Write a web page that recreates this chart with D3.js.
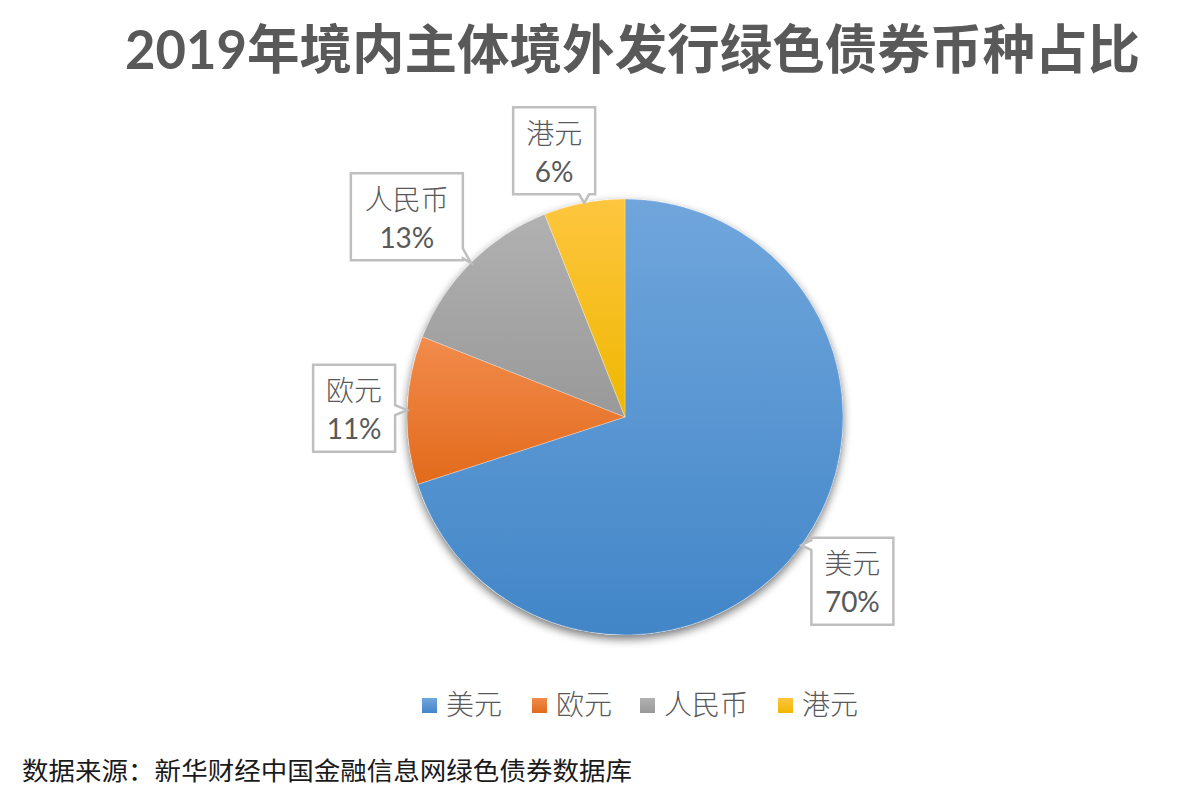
<!DOCTYPE html>
<html><head><meta charset="utf-8">
<script src="https://cdn.jsdelivr.net/npm/d3@7"></script>
<style>html,body{margin:0;padding:0;background:#fff;}svg{display:block;}</style>
</head><body>
<script>
const categories = ["美元", "欧元", "人民币", "港元"];
const values = [70, 11, 13, 6];
const titleText = "2019年境内主体境外发行绿色债券币种占比";
const sourceText = "数据来源：新华财经中国金融信息网绿色债券数据库";

const W = 1188, H = 798;
const cx = 625, cy = 417, R = 218;
const gradTop = ["#70a6dc", "#f28b4c", "#b1b1b1", "#fec63f"];
const gradBot = ["#4286c8", "#e26a1b", "#999999", "#efb700"];
// label box offset from pointer tip (layout)
const boxOffset = [[51, 36], [-53, -2], [-64, -46], [-30, -52]];
const textFont = "Lato, 'Noto Sans CJK SC', sans-serif";

const svg = d3.select("body").append("svg").attr("width", W).attr("height", H);
const defs = svg.append("defs");
categories.forEach((c, i) => {
  const g = defs.append("linearGradient").attr("id", "g" + i)
    .attr("x1", 0).attr("y1", 0).attr("x2", 0).attr("y2", 1);
  g.append("stop").attr("offset", "0%").attr("stop-color", gradTop[i]);
  g.append("stop").attr("offset", "100%").attr("stop-color", gradBot[i]);
});
const f = defs.append("filter").attr("id", "shadow").attr("x", "-20%").attr("y", "-20%").attr("width", "140%").attr("height", "140%");
f.append("feGaussianBlur").attr("in", "SourceAlpha").attr("stdDeviation", 5).attr("result", "b");
f.append("feOffset").attr("in", "b").attr("dx", 0).attr("dy", 4).attr("result", "o");
f.append("feComponentTransfer").attr("in", "o").attr("result", "o2")
  .append("feFuncA").attr("type", "linear").attr("slope", 0.55);
const fm = f.append("feMerge");
fm.append("feMergeNode").attr("in", "o2");
fm.append("feMergeNode").attr("in", "SourceGraphic");

// Title
svg.append("text").attr("x", 125).attr("y", 69)
  .attr("font-family", textFont).attr("font-weight", "bold").attr("font-size", 53)
  .attr("fill", "#595959").attr("textLength", 1015).attr("lengthAdjust", "spacingAndGlyphs")
  .text(titleText);

// Pie
const total = d3.sum(values);
const pie = d3.pie().sort(null).value(d => d)(values);
const arc = d3.arc().innerRadius(0).outerRadius(R);
const pg = svg.append("g").attr("transform", `translate(${cx},${cy})`);
pg.append("circle").attr("r", R).attr("fill", "#fff").attr("filter", "url(#shadow)");
pg.selectAll("path.slice").data(pie).join("path").attr("class", "slice")
  .attr("d", arc).attr("fill", (d, i) => `url(#g${i})`)
  .attr("stroke", "#ffffff").attr("stroke-opacity", 0.35).attr("stroke-width", 0.8);

// Callout labels
const fmt = d3.format(".0%");
pie.forEach((d, i) => {
  const a = (d.startAngle + d.endAngle) / 2;
  const tx = cx + R * Math.sin(a), ty = cy - R * Math.cos(a);
  const bx = tx + boxOffset[i][0], by = ty + boxOffset[i][1];
  const bw = 30 * categories[i].length + 22, bh = 87;
  const x0 = bx - bw / 2, x1 = bx + bw / 2, y0 = by - bh / 2, y1 = by + bh / 2;
  const dx = tx < x0 ? x0 - tx : (tx > x1 ? tx - x1 : 0);
  const dy = ty < y0 ? y0 - ty : (ty > y1 ? ty - y1 : 0);
  const pw = 10;
  let p;
  if (dx >= dy) {
    let py = Math.max(y0 + 2, Math.min(y1 - pw - 2, ty - pw / 2));
    if (tx < x0) {
      p = [[x0, y0], [x1, y0], [x1, y1], [x0, y1], [x0, py + pw], [tx, ty], [x0, py]];
    } else {
      p = [[x0, y0], [x1, y0], [x1, py], [tx, ty], [x1, py + pw], [x1, y1], [x0, y1]];
    }
  } else {
    let px = Math.max(x0 + 2, Math.min(x1 - pw - 2, tx - pw / 2));
    if (ty > y1) {
      p = [[x0, y0], [x1, y0], [x1, y1], [px + pw, y1], [tx, ty], [px, y1], [x0, y1]];
    } else {
      p = [[x0, y0], [px, y0], [tx, ty], [px + pw, y0], [x1, y0], [x1, y1], [x0, y1]];
    }
  }
  svg.append("path").attr("d", d3.line()(p) + "Z")
    .attr("fill", "#fff").attr("stroke", "#bfbfbf").attr("stroke-width", 2.5)
    .attr("stroke-linejoin", "miter");
  svg.append("text").attr("x", bx).attr("y", by - 7).attr("text-anchor", "middle")
    .attr("font-family", textFont).attr("font-weight", 300).attr("font-size", 28).attr("fill", "#595959")
    .text(categories[i]);
  svg.append("text").attr("x", bx).attr("y", by + 31).attr("text-anchor", "middle")
    .attr("font-family", textFont).attr("font-size", 28).attr("fill", "#595959")
    .text(fmt(values[i] / total));
});

// Legend
const legX = [422, 532, 640, 778];
const lg = svg.append("g");
categories.forEach((c, i) => {
  lg.append("rect").attr("x", legX[i]).attr("y", 698).attr("width", 15).attr("height", 15)
    .attr("fill", `url(#g${i})`);
  lg.append("text").attr("x", legX[i] + 24).attr("y", 715)
    .attr("font-family", textFont).attr("font-weight", 300).attr("font-size", 28).attr("fill", "#595959")
    .text(c);
});

// Source
svg.append("text").attr("x", 22).attr("y", 780)
  .attr("font-family", "'Noto Sans CJK SC', sans-serif").attr("font-size", 25).attr("fill", "#1a1a1a")
  .attr("textLength", 610).attr("lengthAdjust", "spacingAndGlyphs")
  .text(sourceText);
</script>
</body></html>
